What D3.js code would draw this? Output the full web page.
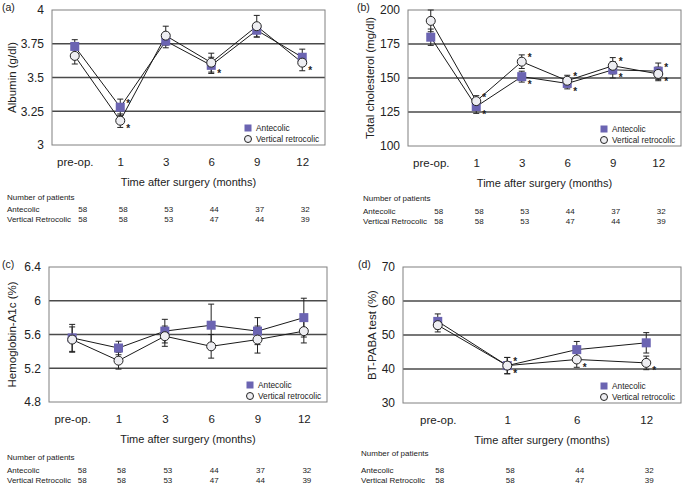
<!DOCTYPE html>
<html><head><meta charset="utf-8">
<script src="https://cdn.jsdelivr.net/npm/d3@7"></script>
<style>
html,body{margin:0;padding:0;background:#fff;}
text{font-family:"Liberation Sans",Arial,Helvetica,sans-serif;fill:#222;}
</style></head>
<body>
<svg id="chart" width="684" height="485"></svg>
<script>
// ---- data ----
const catsMonthly = ["pre-op.", "1", "3", "6", "9", "12"];
const catsPaba = ["pre-op.", "1", "6", "12"];

const seriesNames = ["Antecolic", "Vertical retrocolic"];
const tableRowNames = ["Antecolic", "Vertical Retrocolic"];

const patientsAnteMonthly = [58, 58, 53, 44, 37, 32];
const patientsRetroMonthly = [58, 58, 53, 47, 44, 39];
const patientsAntePaba = [58, 58, 44, 32];
const patientsRetroPaba = [58, 58, 47, 39];

// (a) Albumin
const albuminTicks = [3, 3.25, 3.5, 3.75, 4];
const albuminAnte = [3.73, 3.28, 3.77, 3.59, 3.85, 3.65];
const albuminAnteErr = [0.05, 0.06, 0.05, 0.06, 0.05, 0.06];
const albuminRetro = [3.66, 3.18, 3.81, 3.61, 3.88, 3.61];
const albuminRetroErr = [0.06, 0.05, 0.07, 0.07, 0.08, 0.06];
const albuminAnteStar = [1, 3];
const albuminRetroStar = [1, 5];

// (b) Total cholesterol
const cholTicks = [100, 125, 150, 175, 200];
const cholAnte = [180, 129, 151, 146, 156, 155];
const cholAnteErr = [6, 5, 4, 4, 6, 6];
const cholRetro = [192, 133, 162, 148, 159, 153];
const cholRetroErr = [8, 4, 5, 4, 6, 5];
const cholAnteStar = [1, 2, 3, 4, 5];
const cholRetroStar = [1, 2, 3, 4, 5];

// (c) Hemoglobin-A1c
const hbTicks = [4.8, 5.2, 5.6, 6, 6.4];
const hbAnte = [5.56, 5.44, 5.64, 5.71, 5.64, 5.80];
const hbAnteErr = [0.16, 0.08, 0.14, 0.25, 0.16, 0.23];
const hbRetro = [5.54, 5.29, 5.58, 5.46, 5.54, 5.64];
const hbRetroErr = [0.15, 0.10, 0.12, 0.14, 0.16, 0.14];
const hbAnteStar = [];
const hbRetroStar = [];

// (d) BT-PABA test
const pabaTicks = [30, 40, 50, 60, 70];
const pabaAnte = [54, 41, 45.7, 47.7];
const pabaAnteErr = [2.2, 2.4, 2.4, 3.0];
const pabaRetro = [52.9, 41, 42.8, 41.8];
const pabaRetroErr = [2.0, 2.4, 2.3, 2.0];
const pabaAnteStar = [1];
const pabaRetroStar = [1, 2, 3];

// ---- drawing ----
const svg = d3.select("#chart");
const SQ_COLOR = "#6b64b2";
const TABLE_FONT = "8px";

function drawPanel(cfg) {
  const g = svg.append("g");
  const {x0, x1, y0, y1} = cfg.box;
  const x = d3.scalePoint().domain(cfg.cats).range([x0, x1]).padding(0.5);
  const y = d3.scaleLinear().domain(d3.extent(cfg.ticks)).range([y1, y0]);

  // gridlines (interior ticks)
  g.selectAll("line.grid").data(cfg.ticks.slice(1, -1)).join("line")
    .attr("x1", x0).attr("x2", x1)
    .attr("y1", d => y(d)).attr("y2", d => y(d))
    .attr("stroke", "#4a4a4a").attr("stroke-width", 1.4);

  // frame
  g.append("rect").attr("x", x0).attr("y", y0).attr("width", x1 - x0).attr("height", y1 - y0)
    .attr("fill", "none").attr("stroke", "#808080").attr("stroke-width", 1);

  // y axis
  const ya = g.append("g").attr("transform", `translate(${x0},0)`)
    .call(d3.axisLeft(y).tickValues(cfg.ticks).tickSize(0).tickPadding(8).tickFormat(d => String(d)));
  ya.select(".domain").remove();
  ya.selectAll("text").style("font-size", "12px").style("font-family", '"Liberation Sans",Arial,sans-serif').attr("fill", "#222");

  // x axis labels
  const xa = g.append("g").attr("transform", `translate(0,${y1})`)
    .call(d3.axisBottom(x).tickSize(0).tickPadding(13));
  xa.select(".domain").remove();
  xa.selectAll("text").style("font-size", "11.5px").style("font-family", '"Liberation Sans",Arial,sans-serif').attr("fill", "#222");

  // axis titles
  g.append("text").attr("x", (x0 + x1) / 2).attr("y", y1 + 41)
    .attr("text-anchor", "middle").style("font-size", "11px").text("Time after surgery (months)");
  g.append("text").attr("transform", `translate(${x0 - cfg.ytitleOff},${(y0 + y1) / 2}) rotate(-90)`)
    .attr("text-anchor", "middle").attr("dy", "0.35em").style("font-size", "11.5px").text(cfg.ytitle);

  // panel label
  g.append("text").attr("x", cfg.labelX).attr("y", y0 + 1).style("font-size", "10.5px").text(cfg.label);

  const series = [
    {vals: cfg.ante, err: cfg.anteErr, stars: cfg.anteStar, other: cfg.retro, type: "sq"},
    {vals: cfg.retro, err: cfg.retroErr, stars: cfg.retroStar, other: cfg.ante, type: "ci"}
  ];
  const line = d3.line().x((d, i) => x(cfg.cats[i])).y(d => y(d));

  // error bars
  series.forEach(s => {
    const eb = g.append("g");
    s.vals.forEach((v, i) => {
      const cx = x(cfg.cats[i]);
      eb.append("line").attr("x1", cx).attr("x2", cx).attr("y1", y(v - s.err[i])).attr("y2", y(v + s.err[i]))
        .attr("stroke", "#222").attr("stroke-width", 1);
      [v - s.err[i], v + s.err[i]].forEach(e => {
        eb.append("line").attr("x1", cx - 3).attr("x2", cx + 3).attr("y1", y(e)).attr("y2", y(e))
          .attr("stroke", "#222").attr("stroke-width", 1);
      });
    });
  });

  // lines
  series.forEach(s => {
    g.append("path").datum(s.vals).attr("d", line).attr("fill", "none")
      .attr("stroke", "#1a1a1a").attr("stroke-width", 1);
  });

  // markers
  series.forEach(s => {
    s.vals.forEach((v, i) => {
      const cx = x(cfg.cats[i]), cy = y(v);
      if (s.type === "sq") {
        g.append("rect").attr("x", cx - 4.5).attr("y", cy - 4.5).attr("width", 9).attr("height", 9)
          .attr("fill", SQ_COLOR);
      } else {
        g.append("circle").attr("cx", cx).attr("cy", cy).attr("r", 4.5)
          .attr("fill", "#eeeef2").attr("stroke", "#222").attr("stroke-width", 1);
      }
    });
  });

  // asterisks
  series.forEach(s => {
    s.stars.forEach(i => {
      const v = s.vals[i], o = s.other[i];
      const above = s.type === "sq" ? v >= o : v > o;
      const cx = x(cfg.cats[i]) + 8, cy = y(v) + (above ? -6 : 6);
      g.append("text").attr("x", cx).attr("y", cy + 5.5).attr("text-anchor", "middle")
        .style("font-size", "10px").style("font-weight", "bold").text("*");
    });
  });

  // legend
  const lx = x1 - 77, lsy = y1 - 17, lcy = y1 - 6;
  g.append("rect").attr("x", lx - 3.5).attr("y", lsy - 3.5).attr("width", 7).attr("height", 7).attr("fill", SQ_COLOR);
  g.append("circle").attr("cx", lx).attr("cy", lcy).attr("r", 3.5).attr("fill", "#eeeef2").attr("stroke", "#222");
  g.append("text").attr("x", lx + 8).attr("y", lsy + 3).style("font-size", "8.3px").text(seriesNames[0]);
  g.append("text").attr("x", lx + 8).attr("y", lcy + 3).style("font-size", "8.3px").text(seriesNames[1]);

  // patients table
  const t = cfg.table;
  g.append("text").attr("x", t.x).attr("y", t.y0).style("font-size", TABLE_FONT).text("Number of patients");
  [[tableRowNames[0], cfg.nAnte, t.y1], [tableRowNames[1], cfg.nRetro, t.y2]].forEach(([name, arr, yy]) => {
    g.append("text").attr("x", t.x).attr("y", yy).style("font-size", TABLE_FONT).text(name);
    arr.forEach((n, i) => {
      g.append("text").attr("x", x(cfg.cats[i]) + (i === 0 ? t.firstDx : t.dx)).attr("y", yy)
        .attr("text-anchor", "middle").style("font-size", TABLE_FONT).text(n);
    });
  });
}

drawPanel({
  box: {x0: 52, x1: 325, y0: 10, y1: 145}, cats: catsMonthly, ticks: albuminTicks,
  ante: albuminAnte, anteErr: albuminAnteErr, retro: albuminRetro, retroErr: albuminRetroErr,
  anteStar: albuminAnteStar, retroStar: albuminRetroStar,
  ytitle: "Albumin (g/dl)", ytitleOff: 40, label: "(a)", labelX: 2,
  nAnte: patientsAnteMonthly, nRetro: patientsRetroMonthly,
  table: {x: 7, y0: 200, y1: 212, y2: 222, dx: 3, firstDx: 8}
});
drawPanel({
  box: {x0: 408, x1: 681, y0: 10, y1: 146}, cats: catsMonthly, ticks: cholTicks,
  ante: cholAnte, anteErr: cholAnteErr, retro: cholRetro, retroErr: cholRetroErr,
  anteStar: cholAnteStar, retroStar: cholRetroStar,
  ytitle: "Total cholesterol (mg/dl)", ytitleOff: 38, label: "(b)", labelX: 357,
  nAnte: patientsAnteMonthly, nRetro: patientsRetroMonthly,
  table: {x: 363, y0: 201, y1: 214, y2: 224, dx: 3, firstDx: 8}
});
drawPanel({
  box: {x0: 49, x1: 327, y0: 267, y1: 402}, cats: catsMonthly, ticks: hbTicks,
  ante: hbAnte, anteErr: hbAnteErr, retro: hbRetro, retroErr: hbRetroErr,
  anteStar: hbAnteStar, retroStar: hbRetroStar,
  ytitle: "Hemoglobin-A1c (%)", ytitleOff: 37, label: "(c)", labelX: 2,
  nAnte: patientsAnteMonthly, nRetro: patientsRetroMonthly,
  table: {x: 7, y0: 460, y1: 473, y2: 483, dx: 3, firstDx: 10}
});
drawPanel({
  box: {x0: 403, x1: 681, y0: 267, y1: 403}, cats: catsPaba, ticks: pabaTicks,
  ante: pabaAnte, anteErr: pabaAnteErr, retro: pabaRetro, retroErr: pabaRetroErr,
  anteStar: pabaAnteStar, retroStar: pabaRetroStar,
  ytitle: "BT-PABA test (%)", ytitleOff: 31, label: "(d)", labelX: 358,
  nAnte: patientsAntePaba, nRetro: patientsRetroPaba,
  table: {x: 361, y0: 456, y1: 473, y2: 483, dx: 3, firstDx: 2}
});
</script>
</body></html>
